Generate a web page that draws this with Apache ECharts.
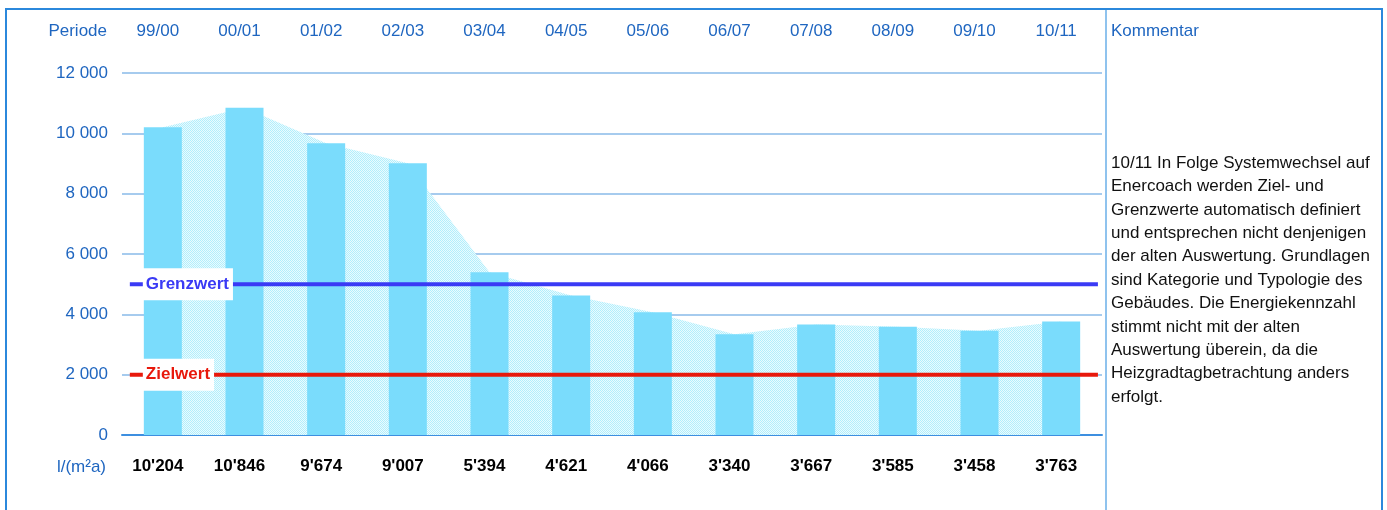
<!DOCTYPE html>
<html><head><meta charset="utf-8">
<script src="https://cdn.jsdelivr.net/npm/echarts@6/dist/echarts.min.js"></script>
<style>html,body{margin:0;padding:0;background:#fff}#c{width:1387px;height:510px}</style>
</head><body><div id="c"></div>
<script>
const periods = ['99/00','00/01','01/02','02/03','03/04','04/05','05/06','06/07','07/08','08/09','09/10','10/11'];
const values = [10204,10846,9674,9007,5394,4621,4066,3340,3667,3585,3458,3763];
const grenzwert = 5000;
const zielwert = 2000;
const yTicks = {min:0, max:12000, interval:2000};
const commentLines = [
 '10/11 In Folge Systemwechsel auf',
 'Enercoach werden Ziel- und',
 'Grenzwerte automatisch definiert',
 'und entsprechen nicht denjenigen',
 'der alten Auswertung. Grundlagen',
 'sind Kategorie und Typologie des',
 'Gebäudes. Die Energiekennzahl',
 'stimmt nicht mit der alten',
 'Auswertung überein, da die',
 'Heizgradtagbetrachtung anders',
 'erfolgt.'
];

const FONT = "'Liberation Sans', Arial, sans-serif";
const BLUE = '#1f66c0';
const fmtThousands = (v, sep) => String(v).replace(/\B(?=(\d{3})+(?!\d))/g, sep);

// dither pattern for the area
const pc = document.createElement('canvas');
pc.width = 2; pc.height = 2;
const pctx = pc.getContext('2d');
pctx.fillStyle = '#eafbfe'; pctx.fillRect(0,0,2,2);
pctx.fillStyle = '#b2eefc'; pctx.fillRect(0,0,1,1); pctx.fillRect(1,1,1,1);

const chart = echarts.init(document.getElementById('c'));
const n = periods.length;
const lineStart = -0.404, lineEnd = 11.45, labelX = -0.245;

chart.setOption({
  animation: false,
  textStyle: {fontFamily: FONT},
  grid: {left: 122, right: 285, top: 73, bottom: 75},
  xAxis: [
    {type:'category', data: values, position:'bottom', boundaryGap:true,
     axisLine:{show:true, lineStyle:{color:'#3d8fe0', width:2}}, axisTick:{show:false},
     axisLabel:{margin:23, fontSize:17, fontWeight:'bold', color:'#000', fontFamily:FONT,
       padding:[0,10,0,0], formatter: v => fmtThousands(v, "'")}},
    {type:'category', data: periods, position:'top', boundaryGap:true,
     axisLine:{show:false}, axisTick:{show:false},
     axisLabel:{margin:33, fontSize:17, color:BLUE, fontFamily:FONT, padding:[0,10,0,0]}},
    {type:'value', min:-0.5, max:n-0.5, show:false}
  ],
  yAxis: {type:'value', min:yTicks.min, max:yTicks.max, interval:yTicks.interval,
    axisLine:{show:false}, axisTick:{show:false},
    axisLabel:{margin:14, fontSize:17, color:BLUE, fontFamily:FONT, formatter: v => fmtThousands(v, ' ')},
    splitLine:{lineStyle:{color:'#a6cbee', width:2}}},
  series: [
    {type:'line', xAxisIndex:0, data: values, symbol:'none', lineStyle:{width:0},
     areaStyle:{color:{image: pc, repeat:'repeat'}, opacity:1}, z:1},
    {type:'bar', xAxisIndex:0, data: values, barWidth:38, itemStyle:{color:'#7adcfc'}, z:2},
    {type:'line', xAxisIndex:2, data:[[lineStart, grenzwert],[lineEnd, grenzwert]], symbol:'none',
     lineStyle:{color:'#3a3af5', width:4}, z:3},
    {type:'line', xAxisIndex:2, data:[[lineStart, zielwert],[lineEnd, zielwert]], symbol:'none',
     lineStyle:{color:'#e8190c', width:4}, z:3},
    {type:'scatter', xAxisIndex:2, symbolSize:0, z:4, itemStyle:{opacity:1},
     data:[{value:[labelX, grenzwert], name:'Grenzwert', label:{color:'#3a3af5'}},
           {value:[labelX, zielwert], name:'Zielwert', label:{color:'#e8190c'}}],
     label:{show:true, position:'right', distance:0, formatter:p => p.name, fontSize:17, fontWeight:'bold',
       fontFamily:FONT, backgroundColor:'#ffffff', opacity:1, padding:[8,4,7,3]}}
  ],
  graphic: [
    {type:'rect', shape:{x:6, y:9, width:1376, height:520}, style:{fill:'none', stroke:'#2b88dc', lineWidth:2}, z:10},
    {type:'line', shape:{x1:1106, y1:10, x2:1106, y2:520}, style:{stroke:'#8fc3ee', lineWidth:2}, z:10},
    {type:'text', x:107, y:31, style:{text:'Periode', fill:BLUE, font:'17px '+FONT, textAlign:'right', textVerticalAlign:'middle'}},
    {type:'text', x:106, y:467, style:{text:'l/(m²a)', fill:BLUE, font:'17px '+FONT, textAlign:'right', textVerticalAlign:'middle'}},
    {type:'text', x:1111, y:31, style:{text:'Kommentar', fill:BLUE, font:'17px '+FONT, textAlign:'left', textVerticalAlign:'middle'}},
    {type:'text', x:1111, y:151.5, style:{text:commentLines.join('\n'), fill:'#111', font:'17px '+FONT, lineHeight:23.4, textAlign:'left', textVerticalAlign:'top'}}
  ]
});
</script></body></html>
